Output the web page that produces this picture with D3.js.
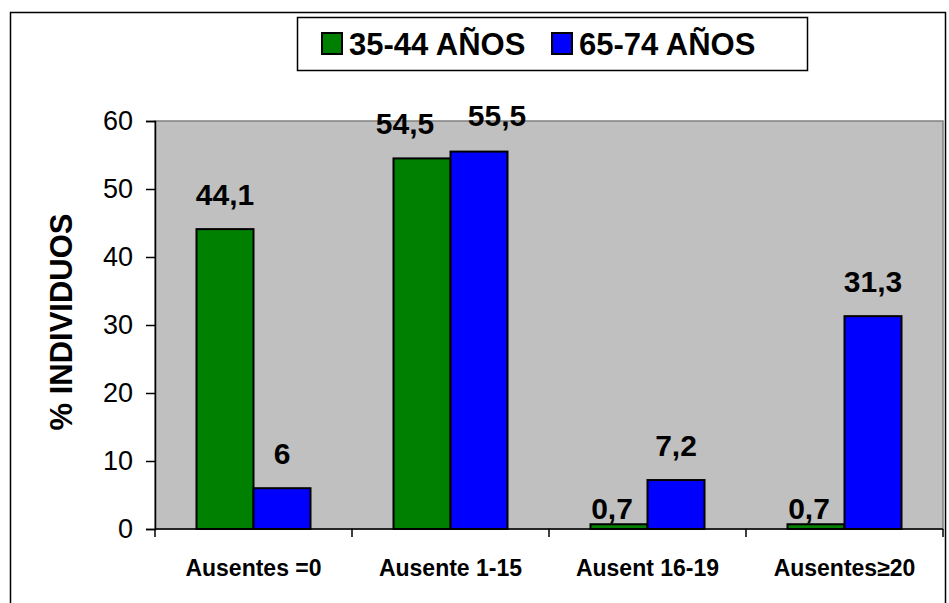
<!DOCTYPE html>
<html>
<head>
<meta charset="utf-8">
<script src="https://cdn.jsdelivr.net/npm/d3@7"></script>
<style>
  body { margin: 0; background: #fff; }
  svg text { font-family: "Liberation Sans", Arial, sans-serif; }
</style>
</head>
<body>
<svg id="chart" width="949" height="603"></svg>
<script>
// data
var categories = ["Ausentes =0", "Ausente 1-15", "Ausent 16-19", "Ausentes\u226520"];
var seriesNames = ["35-44 A\u00d1OS", "65-74 A\u00d1OS"];
var young = [44.1, 54.5, 0.7, 0.7];
var old = [6, 55.5, 7.2, 31.3];
var yTicks = [0, 10, 20, 30, 40, 50, 60];

// layout
var plot = { left: 155, right: 943, top: 121, bottom: 529 };
var colors = ["#008000", "#0000ff"];
// hand-placed label nudges (dx, dy), same order as bars
var nudgeYoung = [[0, 0], [-17, 0], [-7, 19], [-7, 19]];
var nudgeOld = [[0, 0], [18, -2], [0, 0], [0, 0]];

var svg = d3.select("svg#chart");

// outer frame
svg.append("rect")
    .attr("x", 10.5).attr("y", 12.5)
    .attr("width", 935).attr("height", 600)
    .attr("fill", "none").attr("stroke", "#000").attr("stroke-width", 1.5);

var x0 = d3.scaleBand()
    .domain(categories)
    .range([plot.left, plot.right]);

var x1 = d3.scaleBand()
    .domain([0, 1])
    .range([0, 114]);

var y = d3.scaleLinear()
    .domain([0, 60])
    .range([plot.bottom, plot.top]);

// plot background
svg.append("rect")
    .attr("x", plot.left).attr("y", plot.top)
    .attr("width", plot.right - plot.left)
    .attr("height", plot.bottom - plot.top)
    .attr("fill", "#c0c0c0")
    .attr("stroke", "#808080").attr("stroke-width", 1.5);

// y axis
var yAxis = d3.axisLeft(y).tickValues(yTicks).tickSize(9).tickPadding(13);
var gY = svg.append("g")
    .attr("transform", "translate(" + plot.left + ",0)")
    .call(yAxis);
gY.select(".domain").attr("stroke", "#000").attr("stroke-width", 1.5);
gY.selectAll(".tick line").attr("stroke", "#000").attr("stroke-width", 1.5);
gY.selectAll(".tick text")
    .attr("font-size", 27)
    .attr("fill", "#000");

// x axis with ticks at category boundaries
var gX = svg.append("g")
    .attr("transform", "translate(0," + plot.bottom + ")");
gX.append("line")
    .attr("x1", plot.left).attr("x2", plot.right)
    .attr("stroke", "#000").attr("stroke-width", 1.5);
gX.selectAll("line.sep")
    .data(categories.concat([null]))
    .enter().append("line")
    .attr("class", "sep")
    .attr("x1", (d, i) => plot.left + i * x0.step())
    .attr("x2", (d, i) => plot.left + i * x0.step())
    .attr("y1", 0).attr("y2", 8)
    .attr("stroke", "#000").attr("stroke-width", 1.5);
gX.selectAll("text.cat")
    .data(categories)
    .enter().append("text")
    .attr("class", "cat")
    .attr("x", d => x0(d) + x0.bandwidth() / 2)
    .attr("y", 47)
    .attr("text-anchor", "middle")
    .attr("font-size", 23)
    .attr("font-weight", "bold")
    .text(d => d);

// bars
var series = [young, old];
var nudges = [nudgeYoung, nudgeOld];
series.forEach(function (vals, s) {
  var g = svg.append("g");
  var offset = (x0.bandwidth() - 114) / 2;
  g.selectAll("rect")
      .data(vals)
      .enter().append("rect")
      .attr("x", (d, i) => x0(categories[i]) + offset + x1(s))
      .attr("y", d => y(d))
      .attr("width", x1.bandwidth())
      .attr("height", d => y(0) - y(d))
      .attr("fill", colors[s])
      .attr("stroke", "#000").attr("stroke-width", 2);

  g.selectAll("text")
      .data(vals)
      .enter().append("text")
      .attr("x", (d, i) => x0(categories[i]) + offset + x1(s) + x1.bandwidth() / 2 + nudges[s][i][0])
      .attr("y", (d, i) => y(d) - 24 + nudges[s][i][1])
      .attr("text-anchor", "middle")
      .attr("font-size", 30)
      .attr("font-weight", "bold")
      .text(d => String(d).replace(".", ","));
});

// y title
svg.append("text")
    .attr("transform", "translate(72,322) rotate(-90)")
    .attr("text-anchor", "middle")
    .attr("font-size", 31)
    .attr("font-weight", "bold")
    .text("% INDIVIDUOS");

// legend
var leg = svg.append("g");
leg.append("rect")
    .attr("x", 297.5).attr("y", 17.5)
    .attr("width", 510).attr("height", 53)
    .attr("fill", "#fff").attr("stroke", "#000").attr("stroke-width", 1.5);
var legX = [322, 552];
seriesNames.forEach(function (name, s) {
  leg.append("rect")
      .attr("x", legX[s]).attr("y", 33)
      .attr("width", 20).attr("height", 21)
      .attr("fill", colors[s])
      .attr("stroke", "#000").attr("stroke-width", 2);
  leg.append("text")
      .attr("x", legX[s] + 27).attr("y", 55)
      .attr("font-size", 31)
      .attr("font-weight", "bold")
      .text(name);
});
</script>
</body>
</html>
